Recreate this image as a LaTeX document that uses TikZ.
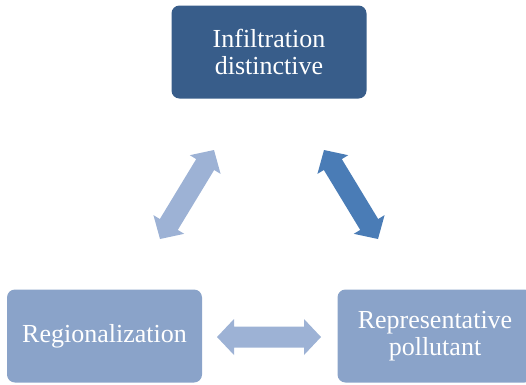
\documentclass[tikz,border=0pt]{standalone}
\usepackage{fontspec}
\setmainfont{Liberation Serif}
\usetikzlibrary{calc}
\definecolor{darkblue}{HTML}{385D8A}
\definecolor{paleblue}{HTML}{8AA3C9}
\definecolor{midblue}{HTML}{4A7CB6}
\definecolor{lightblue}{HTML}{9DB2D5}
% two-headed block arrow from #2 to #3, filled with #1
\newcommand\blockarrow[3]{%
  \fill[#1] (#2)
    -- ($(#2)!17pt!(#3)!18pt!90:(#3)$) -- ($(#2)!17pt!(#3)!10.5pt!90:(#3)$)
    -- ($(#3)!17pt!(#2)!10.5pt!-90:(#2)$) -- ($(#3)!17pt!(#2)!18pt!-90:(#2)$)
    -- (#3)
    -- ($(#3)!17pt!(#2)!18pt!90:(#2)$) -- ($(#3)!17pt!(#2)!10.5pt!90:(#2)$)
    -- ($(#2)!17pt!(#3)!10.5pt!-90:(#3)$) -- ($(#2)!17pt!(#3)!18pt!-90:(#3)$)
    -- cycle;}
\begin{document}
\begin{tikzpicture}
    [
    x=1pt,y=-1pt,
    box/.style={rectangle,rounded corners=8pt,inner sep=0pt,minimum width=195pt,minimum height=93pt,text=white,align=center,font=\fontsize{26}{27}\selectfont}
    ]
    \clip (0,0) rectangle (526,384);
    \node (infil) at (269,52) [box,fill=darkblue] {Infiltration\\distinctive};
    \node (region) at (104.5,336) [box,fill=paleblue] {Regionalization};
    \node (pollut) at (435,336) [box,fill=paleblue] {Representative\\pollutant};
    \coordinate (l1) at (160,239);
    \coordinate (l2) at (214,150);
    \coordinate (r1) at (324,150);
    \coordinate (r2) at (378,239);
    \coordinate (h1) at (217,337);
    \coordinate (h2) at (321,337);
    \blockarrow{lightblue}{l1}{l2}
    \blockarrow{midblue}{r1}{r2}
    \blockarrow{lightblue}{h1}{h2}
  \end{tikzpicture}
\end{document}
